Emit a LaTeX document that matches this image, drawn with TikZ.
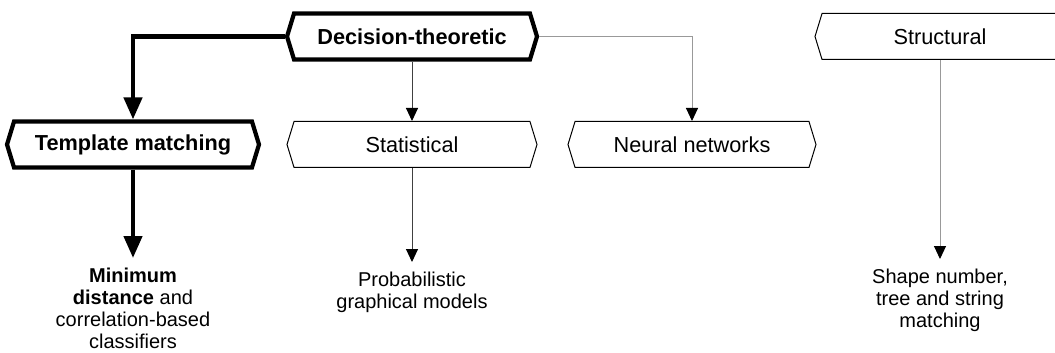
\documentclass[tikz,border=0pt]{standalone}
\usepackage{fontspec}
\setmainfont{Liberation Sans}
\usetikzlibrary{arrows.meta, positioning, shapes.symbols}
\tikzset{
  catbox/.style   = {signal, signal to=east and west, signal pointer angle=146,
                     draw=black, line width=0.5pt, fill=white,
                     minimum width=125pt, minimum height=23pt, inner sep=0pt,
                     font=\fontsize{10.85}{13}\selectfont},
  catmain/.style  = {catbox, line width=2.1pt,
                     font=\fontsize{10.85}{13}\selectfont\bfseries},
  leaf/.style     = {align=center, inner xsep=0pt, inner ysep=5pt, outer sep=0pt,
                     anchor=north, font=\fontsize{10}{11}\selectfont},
  mainlink/.style = {line width=2.2pt, -{Triangle[length=11pt, width=9pt]}},
  sublink/.style  = {line width=0.5pt, draw=black!75,
                     -{Triangle[length=6.5pt, width=6pt, black]}},
  greylink/.style = {sublink, draw=black!40},
}
\begin{document}
\begin{tikzpicture}[x=0.5pt, y=-0.5pt]
  \path[use as bounding box, clip] (0,0) rectangle (1055,353);
  \node[catmain] (dtheo)  at (412,36.5) {Decision-theoretic};
  \node[catbox]  (struct) at (940,36.5) {Structural};
  \node[catmain, minimum width=126pt] (tmatch) at (133,144.5) {Template matching};
  \node[catbox]  (stat)   at (412,144.5) {Statistical};
  \node[catbox, minimum width=124pt] (neural) at (692,144.5) {Neural networks};
  \node[leaf] (mindist)  at (133,258) {\textbf{Minimum}\\\textbf{distance} and\\correlation-based\\classifiers};
  \node[leaf] (probgm)   at (412,262) {Probabilistic\\graphical models};
  \node[leaf] (shapenum) at (940,259) {Shape number,\\tree and string\\matching};
  \draw[mainlink] (dtheo.west) -| (tmatch.north);
  \draw[mainlink] (tmatch.south) -- (mindist.north);
  \draw[sublink]  (dtheo.south) -- (stat.north);
  \draw[sublink]  (stat.south) -- (probgm.north);
  \draw[greylink] (dtheo.east) -| (neural.north);
  \draw[greylink] (struct.south) -- (shapenum.north);
\end{tikzpicture}
\end{document}
